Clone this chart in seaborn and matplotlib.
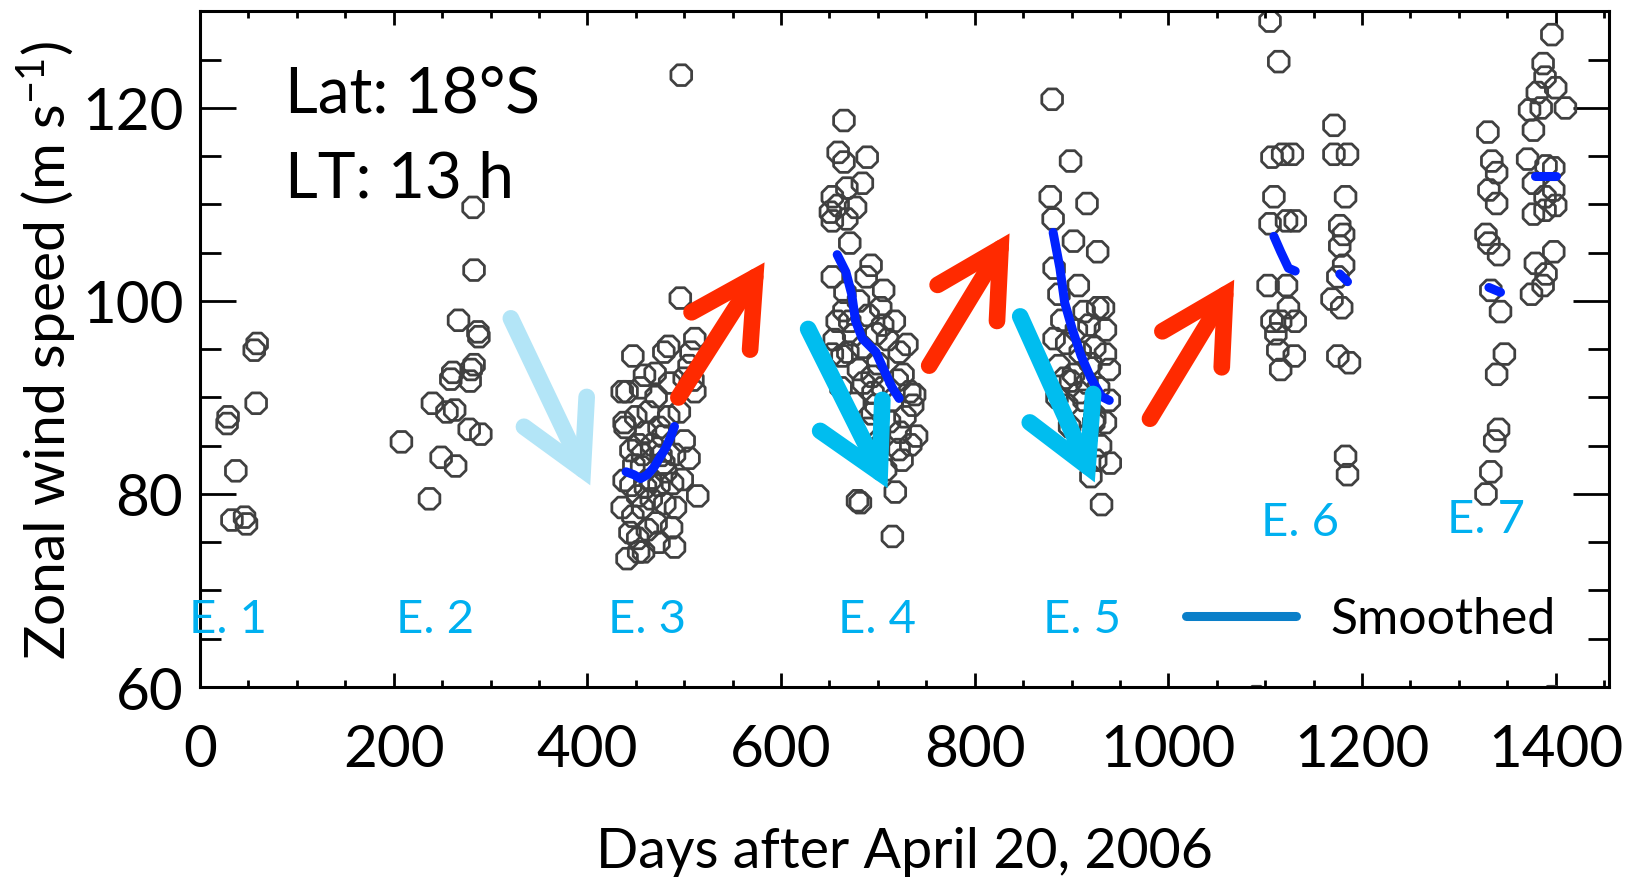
import numpy as np
import pandas as pd
import matplotlib
matplotlib.use('Agg')
import matplotlib.pyplot as plt
import seaborn as sns
from matplotlib.patches import FancyArrowPatch, ArrowStyle
from matplotlib.lines import Line2D
from matplotlib.ticker import MultipleLocator, FixedLocator

# ---------------- data ----------------
e1_day = [59, 56, 58, 29, 28, 37, 33, 46, 48]
e1_speed = [95.6, 94.9, 89.4, 88.0, 87.3, 82.4, 77.3, 77.6, 76.9]

e2_day = [282, 283, 267, 287, 288, 283, 279, 261, 259, 280, 240, 255, 263, 278, 290, 208, 249, 264, 237]
e2_speed = [109.7, 103.2, 98.0, 96.8, 96.3, 93.4, 91.7, 92.6, 91.9, 92.9, 89.4, 88.5, 88.7, 86.7, 86.2,
            85.4, 83.8, 82.9, 79.5]

e3_day = [447, 459, 436, 441, 471, 479, 484, 438, 439, 453, 460, 474, 467, 457, 438, 460, 474, 436, 447,
          457, 471, 452, 453, 441, 474, 490, 491, 497, 496, 511, 507, 505, 511, 484, 490, 505, 479, 465,
          488, 514, 458, 445, 462, 481, 456, 445, 450, 463, 478, 485, 495, 500, 466, 480, 498, 444, 455,
          470, 487, 452, 500, 476, 448, 509]
e3_speed = [94.3, 92.3, 90.6, 90.6, 90.1, 94.7, 95.3, 87.4, 86.9, 85.1, 86.4, 86.9, 85.1, 84.1, 81.4,
            80.7, 80.9, 78.6, 77.7, 78.6, 77.0, 75.4, 74.0, 73.3, 75.0, 74.5, 78.6, 123.4, 100.3, 96.1,
            94.7, 93.3, 90.6, 88.0, 84.1, 83.7, 83.2, 81.4, 81.1, 79.8, 74.0, 80.9, 76.3, 82.3, 82.8,
            84.5, 88.0, 88.5, 86.0, 91.5, 88.5, 92.0, 79.5, 79.0, 81.5, 76.0, 91.0, 92.5, 76.5, 79.8,
            85.5, 84.0, 83.0, 91.8]

e4_day = [665, 659, 665, 689, 684, 668, 653, 659, 677, 651, 668, 653, 671, 693, 653, 666, 688, 706, 703,
          717, 658, 671, 698, 669, 684, 722, 663, 680, 694, 726, 738, 733, 705, 715, 698, 736, 675, 694,
          723, 734, 722, 701, 718, 682, 679, 715, 653, 690, 710, 700, 720, 685, 712, 728, 695, 675, 665,
          705, 730, 740, 725, 708, 680, 655, 662, 690]
e4_speed = [118.7, 115.4, 114.4, 114.9, 112.2, 111.7, 110.8, 109.9, 109.7, 109.2, 108.5, 108.3, 106.0,
            103.7, 102.5, 100.9, 102.5, 101.1, 99.3, 97.9, 97.9, 97.9, 96.6, 94.7, 95.2, 94.7, 94.3, 92.9,
            92.2, 92.4, 90.3, 90.6, 91.0, 89.7, 89.2, 89.2, 89.4, 88.3, 86.4, 85.1, 84.6, 85.5, 80.2, 79.1,
            79.3, 75.6, 94.5, 98.5, 96.0, 93.5, 91.8, 91.5, 87.5, 88.0, 90.5, 96.5, 99.0, 97.5, 95.5, 86.0,
            83.5, 82.5, 100.0, 96.0, 91.0, 86.8]

e5_day = [880, 899, 878, 916, 881, 902, 927, 882, 907, 887, 913, 927, 882, 895, 909, 887, 902, 916, 913,
          895, 923, 920, 931, 933, 924, 935, 939, 899, 939, 924, 935, 940, 890, 905, 918, 893, 908, 928,
          915, 930, 898, 885, 920, 935, 910, 925]
e5_speed = [120.9, 114.5, 110.8, 110.1, 108.5, 106.2, 105.1, 103.4, 101.6, 100.7, 98.9, 99.3, 96.1, 95.6,
            94.7, 93.3, 92.4, 91.5, 89.7, 89.2, 87.4, 81.8, 78.9, 99.3, 95.2, 94.5, 92.9, 91.7, 89.7, 87.8,
            87.4, 83.2, 98.0, 97.0, 97.5, 92.0, 90.5, 91.0, 86.0, 85.0, 87.0, 90.0, 93.5, 97.0, 84.5, 83.5]

e6_day = [1105, 1114, 1107, 1118, 1128, 1109, 1105, 1122, 1131, 1103, 1122, 1124, 1107, 1116, 1131, 1111,
          1113, 1130, 1116, 1171, 1171, 1185, 1183, 1177, 1181, 1177, 1181, 1175, 1169, 1179, 1175, 1187,
          1183, 1185, 1091]
e6_speed = [129.0, 124.8, 114.9, 115.2, 115.2, 110.8, 108.0, 108.3, 108.3, 101.6, 101.6, 99.3, 97.9, 97.9,
            97.9, 96.6, 94.9, 94.3, 92.9, 118.2, 115.2, 115.2, 110.8, 107.8, 106.9, 105.7, 103.7, 102.5,
            100.2, 99.3, 94.3, 93.6, 83.9, 82.0, 59.0]

e7_day = [1330, 1334, 1339, 1331, 1339, 1328, 1331, 1341, 1333, 1343, 1347, 1339, 1341, 1337, 1333, 1328,
          1396, 1387, 1389, 1381, 1400, 1373, 1385, 1377, 1410, 1371, 1390, 1398, 1377, 1398, 1389, 1400,
          1377, 1389, 1398, 1379, 1390, 1387, 1375, 1396]
e7_speed = [117.5, 114.5, 113.3, 111.5, 110.1, 106.9, 106.0, 104.8, 101.1, 98.9, 94.5, 92.4, 86.7, 85.5,
            82.3, 80.0, 127.6, 124.6, 123.2, 121.6, 122.1, 119.8, 120.0, 117.7, 120.0, 114.7, 114.0, 113.8,
            112.2, 111.5, 110.8, 109.9, 109.0, 109.4, 105.1, 103.9, 102.8, 101.6, 100.7, 59.0]

# smoothed curves (segments)
sm_segments = ['E3', 'E4', 'E5', 'E6a', 'E6b', 'E7a', 'E7b']
sm_day = [
    [440, 448, 455, 462, 469, 475, 481, 486, 490],
    [658, 667, 673, 677, 684, 698, 706, 715, 722],
    [881, 888, 893, 901, 910, 920, 931, 939],
    [1109, 1116, 1124, 1131],
    [1177, 1185],
    [1331, 1343],
    [1379, 1400],
]
sm_speed = [
    [82.3, 82.0, 81.6, 82.0, 82.8, 83.8, 84.8, 85.9, 87.0],
    [104.8, 103.0, 100.7, 97.9, 96.1, 94.7, 92.9, 91.0, 89.9],
    [107.1, 103.4, 99.8, 97.0, 94.3, 92.0, 90.1, 89.7],
    [106.7, 105.1, 103.4, 103.1],
    [102.8, 102.0],
    [101.4, 100.9],
    [112.9, 112.9],
]

# event labels
event_labels = ['E. 1', 'E. 2', 'E. 3', 'E. 4', 'E. 5', 'E. 6', 'E. 7']
event_label_x = [29, 243, 462, 699, 911, 1136, 1328]
event_label_y = [67.0, 67.0, 67.0, 67.0, 67.0, 77.1, 77.4]

# trend arrows (tail -> head, data coords)
arrow_tail = [(321, 98.2), (494, 90.0), (628, 97.1), (753, 93.3), (847, 98.4), (981, 87.8)]
arrow_head = [(403, 80.9), (583, 104.0), (710, 80.6), (836, 107.0), (924, 81.2), (1068, 102.2)]
arrow_color = ['#B3E5F7', '#FF2A00', '#00BDEF', '#FF2A00', '#00BDEF', '#FF2A00']

x_ticks = [0, 200, 400, 600, 800, 1000, 1200, 1400]
y_ticks = [60, 80, 100, 120]

# ---------------- build frames ----------------
pts = pd.concat([
    pd.DataFrame({'day': d, 'speed': s, 'event': n})
    for d, s, n in [(e1_day, e1_speed, 'E1'), (e2_day, e2_speed, 'E2'), (e3_day, e3_speed, 'E3'),
                    (e4_day, e4_speed, 'E4'), (e5_day, e5_speed, 'E5'), (e6_day, e6_speed, 'E6'),
                    (e7_day, e7_speed, 'E7')]
], ignore_index=True)

sm = pd.concat([
    pd.DataFrame({'day': d, 'speed': s, 'seg': n})
    for d, s, n in zip(sm_day, sm_speed, sm_segments)
], ignore_index=True)

# ---------------- plot ----------------
sns.set_theme(style='white')
plt.rcParams['font.family'] = ['Lato', 'DejaVu Sans']
plt.rcParams['mathtext.fontset'] = 'custom'
plt.rcParams['mathtext.rm'] = 'Lato'
plt.rcParams['mathtext.it'] = 'Lato:italic'
plt.rcParams['text.color'] = 'black'
plt.rcParams['axes.labelcolor'] = 'black'
plt.rcParams['xtick.color'] = 'black'
plt.rcParams['ytick.color'] = 'black'

fig = plt.figure(figsize=(16.3, 8.78), dpi=100)
ax = fig.add_axes([0.1227, 0.2164, 0.8644, 0.7694])

sns.scatterplot(data=pts, x='day', y='speed', ax=ax, marker='8', s=260,
                facecolor='none', edgecolor='#404040', linewidth=2.0, legend=False, zorder=2)

for seg in sm_segments:
    sns.lineplot(data=sm[sm['seg'] == seg], x='day', y='speed', ax=ax, estimator=None, sort=False,
                 color='#0022FF', linewidth=6.5, legend=False, zorder=3)

for (tx, ty), (hx, hy), c in zip(arrow_tail, arrow_head, arrow_color):
    arr = FancyArrowPatch((tx, ty), (hx, hy),
                          arrowstyle=ArrowStyle('->', head_length=0.46, head_width=0.25),
                          mutation_scale=100, lw=12, color=c, shrinkA=0, shrinkB=0,
                          capstyle='round', joinstyle='miter', zorder=4)
    ax.add_patch(arr)

for lab, x, y in zip(event_labels, event_label_x, event_label_y):
    ax.text(x, y, lab, color='#00B0F0', fontsize=34, ha='center', va='center', zorder=5)

ax.text(88, 121.5, 'Lat: 18°S', fontsize=46, ha='left', va='center', color='black', zorder=5)
ax.text(88, 112.7, 'LT: 13 h', fontsize=46, ha='left', va='center', color='black', zorder=5)

handle = Line2D([], [], color='#0A7FC9', lw=6.5)
ax.legend(handles=[handle], labels=['Smoothed'], loc='center left',
          bbox_to_anchor=(1018, 67.0), bbox_transform=ax.transData, frameon=False,
          fontsize=36, handlelength=2.2, handletextpad=0.7, borderpad=0, borderaxespad=0,
          labelcolor='black')

ax.set_xlim(0, 1455)
ax.set_ylim(60, 130)
ax.xaxis.set_major_locator(FixedLocator(x_ticks))
ax.xaxis.set_minor_locator(MultipleLocator(50))
ax.yaxis.set_major_locator(FixedLocator(y_ticks))
ax.yaxis.set_minor_locator(MultipleLocator(5))

ax.tick_params(axis='x', which='major', direction='in', length=10, width=2, top=True, bottom=True,
               labelsize=42, pad=26, color='black', labelcolor='black')
ax.tick_params(axis='x', which='minor', direction='in', length=5, width=2, top=True, bottom=True,
               color='black')
ax.tick_params(axis='y', which='major', direction='in', length=26, width=2, left=True, right=True,
               labelsize=42, pad=12, color='black', labelcolor='black')
ax.tick_params(axis='y', which='minor', direction='in', length=15, width=2, left=True, right=True,
               color='black')

for sp in ax.spines.values():
    sp.set_visible(True)
    sp.set_color('black')
    sp.set_linewidth(2.2)

ax.set_xlabel('Days after April 20, 2006', fontsize=40, labelpad=36, color='black')
ax.set_ylabel('Zonal wind speed (m s$^{-1}$)', fontsize=41, labelpad=2, color='black')

fig.savefig('out.png', dpi=100)
